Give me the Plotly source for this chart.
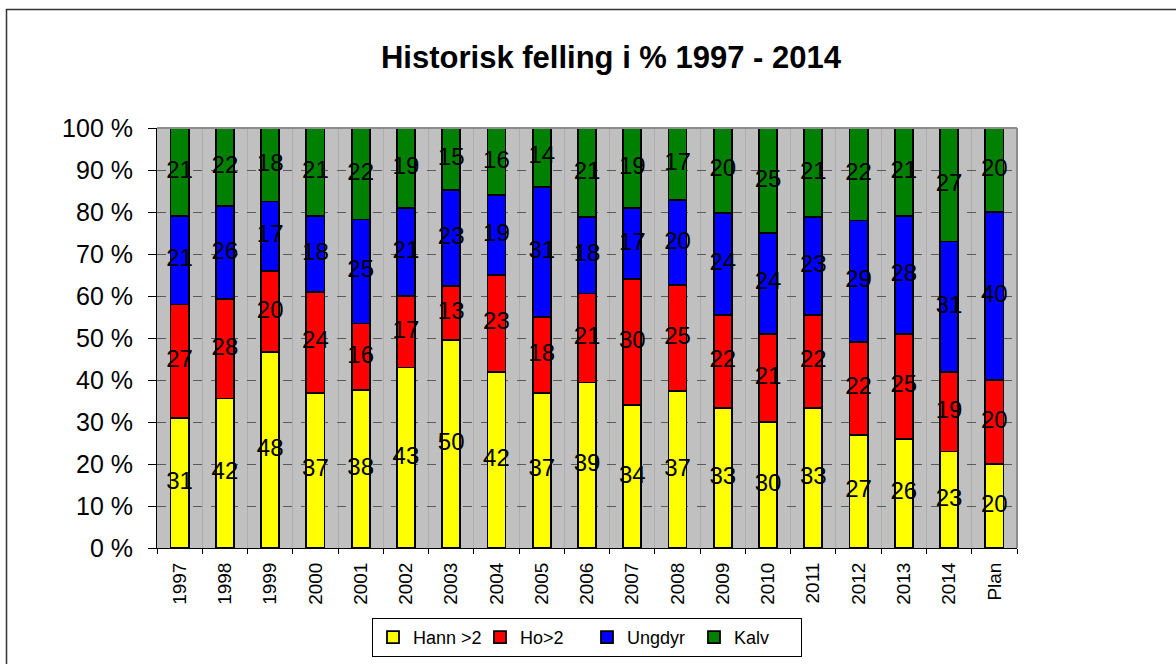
import plotly.graph_objects as go

categories = ["1997", "1998", "1999", "2000", "2001", "2002", "2003", "2004", "2005",
              "2006", "2007", "2008", "2009", "2010", "2011", "2012", "2013", "2014", "Plan"]
hann = [31, 42, 48, 37, 38, 43, 50, 42, 37, 39, 34, 37, 33, 30, 33, 27, 26, 23, 20]
ho = [27, 28, 20, 24, 16, 17, 13, 23, 18, 21, 30, 25, 22, 21, 22, 22, 25, 19, 20]
ungdyr = [21, 26, 17, 18, 25, 21, 23, 19, 31, 18, 17, 20, 24, 24, 23, 29, 28, 31, 40]
kalv = [21, 22, 18, 21, 22, 19, 15, 16, 14, 21, 19, 17, 20, 25, 21, 22, 21, 27, 20]

series = [("Hann >2", hann, "#ffff00"), ("Ho>2", ho, "#ff0000"),
          ("Ungdyr", ungdyr, "#0000ff"), ("Kalv", kalv, "#008000")]

FONT = "Liberation Sans, Arial, sans-serif"
fig = go.Figure()

for name, vals, color in series:
    fig.add_trace(go.Bar(x=categories, y=vals, name=name,
                         marker=dict(color=color, line=dict(color="black", width=1.8)),
                         hoverinfo="skip"))

# data labels at the centre of each normalised segment
totals = [sum(s[1][i] for s in series) for i in range(len(categories))]
base = [0.0] * len(categories)
for name, vals, color in series:
    mids = []
    for i, v in enumerate(vals):
        pct = 100.0 * v / totals[i]
        mids.append(base[i] + pct / 2)
        base[i] += pct
    fig.add_trace(go.Scatter(x=categories, y=mids, mode="text", text=[str(v) for v in vals],
                             textfont=dict(family=FONT, size=24, color="black"),
                             showlegend=False, hoverinfo="skip", cliponaxis=False))

fig.update_layout(
    width=1176, height=664,
    margin=dict(l=157, r=159, t=128, b=116),
    paper_bgcolor="white", plot_bgcolor="#c0c0c0",
    barmode="stack", barnorm="percent", bargap=0.6,
    font=dict(family=FONT, color="black"),
    title=dict(text="<b>Historisk felling i % 1997 - 2014</b>",
               font=dict(family=FONT, size=31, color="black"),
               x=(611 - 157) / 860, xref="paper", xanchor="center",
               y=1 - 57 / 664, yref="container", yanchor="middle"),
    showlegend=True,
    legend=dict(orientation="h", x=0.5, xanchor="center",
                yref="container", y=1 - 618 / 664, yanchor="top",
                font=dict(family=FONT, size=18, color="black"),
                bordercolor="black", borderwidth=1, bgcolor="white",
                entrywidth=62, traceorder="normal"),
)

fig.update_xaxes(type="category", range=[-0.5, len(categories) - 0.5],
                 tickson="boundaries", showgrid=True, gridcolor="#adadad",
                 gridwidth=1, ticks="outside", ticklen=5, tickcolor="black",
                 showline=True, linecolor="black", linewidth=1, tickangle=-90,
                 tickfont=dict(family=FONT, size=19, color="black"), ticklabelstandoff=6,
                 automargin=False)
fig.update_yaxes(range=[0, 100], dtick=10, ticksuffix=" %", showgrid=True,
                 gridcolor="#5a5a5a", griddash="dash", gridwidth=1,
                 ticks="outside", ticklen=8, tickcolor="black",
                 showline=True, linecolor="black", linewidth=1, zeroline=False,
                 tickfont=dict(family=FONT, size=25, color="black"), ticklabelstandoff=10,
                 automargin=False)

# plot-area top/right border (gray) and outer chart frame
fig.add_shape(type="line", xref="paper", yref="paper", x0=0, x1=1, y0=1, y1=1,
              line=dict(color="#8c8c8c", width=2))
fig.add_shape(type="line", xref="paper", yref="paper", x0=1, x1=1, y0=0, y1=1,
              line=dict(color="#8c8c8c", width=2))
fig.add_shape(type="rect", xref="paper", yref="paper",
              x0=(6.5 - 157) / 860, x1=1.25, y0=(548 - 9.5) / 420, y1=-0.4,
              line=dict(color="#333333", width=1.5), layer="below")

fig.write_html("out.html", config={"displayModeBar": False},
               post_script="document.body.style.margin='0';")
